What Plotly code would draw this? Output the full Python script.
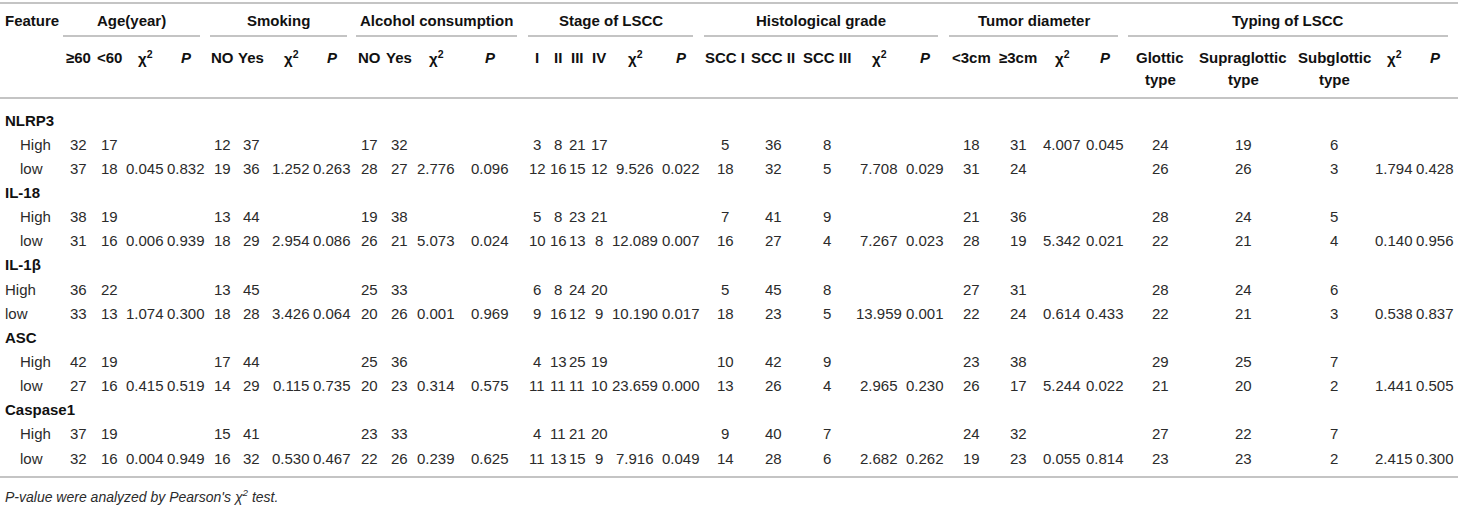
import plotly.graph_objects as go

# table contents
markers = ["NLRP3", "IL-18", "IL-1β", "ASC", "Caspase1"]
levels = ["High", "low"]

group_titles = ["Age(year)", "Smoking", "Alcohol consumption", "Stage of LSCC",
                "Histological grade", "Tumor diameter", "Typing of LSCC"]

age_labels = ["≥60", "&lt;60"]
smoke_labels = ["NO", "Yes"]
alcohol_labels = ["NO", "Yes"]
stage_labels = ["I", "II", "III", "IV"]
grade_labels = ["SCC I", "SCC II", "SCC III"]
tumor_labels = ["&lt;3cm", "≥3cm"]
typing_labels = ["Glottic<br>type", "Supraglottic<br>type", "Subglottic<br>type"]

age_high = [[32, 17], [38, 19], [36, 22], [42, 19], [37, 19]]
age_low = [[37, 18], [31, 16], [33, 13], [27, 16], [32, 16]]
age_chi2 = ["0.045", "0.006", "1.074", "0.415", "0.004"]
age_p = ["0.832", "0.939", "0.300", "0.519", "0.949"]

smoke_high = [[12, 37], [13, 44], [13, 45], [17, 44], [15, 41]]
smoke_low = [[19, 36], [18, 29], [18, 28], [14, 29], [16, 32]]
smoke_chi2 = ["1.252", "2.954", "3.426", "0.115", "0.530"]
smoke_p = ["0.263", "0.086", "0.064", "0.735", "0.467"]

alcohol_high = [[17, 32], [19, 38], [25, 33], [25, 36], [23, 33]]
alcohol_low = [[28, 27], [26, 21], [20, 26], [20, 23], [22, 26]]
alcohol_chi2 = ["2.776", "5.073", "0.001", "0.314", "0.239"]
alcohol_p = ["0.096", "0.024", "0.969", "0.575", "0.625"]

stage_high = [[3, 8, 21, 17], [5, 8, 23, 21], [6, 8, 24, 20], [4, 13, 25, 19], [4, 11, 21, 20]]
stage_low = [[12, 16, 15, 12], [10, 16, 13, 8], [9, 16, 12, 9], [11, 11, 11, 10], [11, 13, 15, 9]]
stage_chi2 = ["9.526", "12.089", "10.190", "23.659", "7.916"]
stage_p = ["0.022", "0.007", "0.017", "0.000", "0.049"]

grade_high = [[5, 36, 8], [7, 41, 9], [5, 45, 8], [10, 42, 9], [9, 40, 7]]
grade_low = [[18, 32, 5], [16, 27, 4], [18, 23, 5], [13, 26, 4], [14, 28, 6]]
grade_chi2 = ["7.708", "7.267", "13.959", "2.965", "2.682"]
grade_p = ["0.029", "0.023", "0.001", "0.230", "0.262"]

tumor_high = [[18, 31], [21, 36], [27, 31], [23, 38], [24, 32]]
tumor_low = [[31, 24], [28, 19], [22, 24], [26, 17], [19, 23]]
tumor_chi2 = ["4.007", "5.342", "0.614", "5.244", "0.055"]
tumor_p = ["0.045", "0.021", "0.433", "0.022", "0.814"]
tumor_stat_row = ["High", "low", "low", "low", "low"]

typing_high = [[24, 19, 6], [28, 24, 5], [28, 24, 6], [29, 25, 7], [27, 22, 7]]
typing_low = [[26, 26, 3], [22, 21, 4], [22, 21, 3], [21, 20, 2], [23, 23, 2]]
typing_chi2 = ["1.794", "0.140", "0.538", "1.441", "2.415"]
typing_p = ["0.428", "0.956", "0.837", "0.505", "0.300"]

footnote = "P-value were analyzed by Pearson's χ<sup>2</sup> test."

# layout, in pixels of the 1458x507 page
W, H = 1458, 507
FONT = "Liberation Sans, Arial, Helvetica, sans-serif"
HEAD = "#111111"
BODY = "#2b2b2b"
RULE = "#c4c4c4"

age_x = [78, 109, 145, 186]
smoke_x = [222, 251, 291, 332]
alcohol_x = [369, 399, 436, 490]
stage_x = [537, 558, 577, 599, 635, 681]
grade_x = [725, 773, 827, 879, 925]
tumor_x = [971, 1018, 1062, 1105]
typing_x = [1160, 1243, 1334, 1394, 1435]
spans = [(63, 200), (210, 347), (356, 517), (528, 693), (704, 938), (949, 1118), (1128, 1448)]
label_indent = [18, 18, 3, 18, 18]
row_y0, row_step = 120, 24.15

groups = [
    (age_labels, age_high, age_low, age_chi2, age_p, age_x, ["low"] * 5),
    (smoke_labels, smoke_high, smoke_low, smoke_chi2, smoke_p, smoke_x, ["low"] * 5),
    (alcohol_labels, alcohol_high, alcohol_low, alcohol_chi2, alcohol_p, alcohol_x, ["low"] * 5),
    (stage_labels, stage_high, stage_low, stage_chi2, stage_p, stage_x, ["low"] * 5),
    (grade_labels, grade_high, grade_low, grade_chi2, grade_p, grade_x, ["low"] * 5),
    (tumor_labels, tumor_high, tumor_low, tumor_chi2, tumor_p, tumor_x, tumor_stat_row),
    (typing_labels, typing_high, typing_low, typing_chi2, typing_p, typing_x, ["low"] * 5),
]

anns = []


def txt(x, y, s, anchor="center", size=15, color=BODY):
    anns.append(dict(x=x, y=y, xref="x", yref="y", text=s, showarrow=False,
                     xanchor=anchor, yanchor="middle",
                     font=dict(size=size, color=color, family=FONT)))


# header
txt(3, 20, "<b>Feature</b>", anchor="left", color=HEAD)
for title, (a, b) in zip(group_titles, spans):
    txt((a + b) / 2, 20, "<b>" + title + "</b>", color=HEAD)

for labels, hi, lo, chi, p, xs, stat_rows in groups:
    n = len(labels)
    for lab, x in zip(labels, xs[:n]):
        if "<br>" in lab:
            top, bottom = lab.split("<br>")
            txt(x, 57, "<b>" + top + "</b>", color=HEAD)
            txt(x, 79, "<b>" + bottom + "</b>", color=HEAD)
        else:
            txt(x, 57, "<b>" + lab + "</b>", color=HEAD)
    txt(xs[n], 57, "<b>χ<sup>2</sup></b>", color=HEAD)
    txt(xs[n + 1], 57, "<b><i>P</i></b>", color=HEAD)

    # body
    for i in range(len(markers)):
        for j, counts in enumerate([hi[i], lo[i]]):
            y = row_y0 + row_step * (3 * i + 1 + j)
            for v, x in zip(counts, xs[:n]):
                txt(x, y, str(v))
            if levels[j] == stat_rows[i]:
                txt(xs[n], y, chi[i])
                txt(xs[n + 1], y, p[i])

# row labels
for i, m in enumerate(markers):
    txt(3, row_y0 + row_step * 3 * i, "<b>" + m + "</b>", anchor="left", color=HEAD)
    for j, lev in enumerate(levels):
        txt(label_indent[i], row_y0 + row_step * (3 * i + 1 + j), lev, anchor="left")

txt(3, 496, "<i>" + footnote + "</i>", anchor="left", size=14)

# rules
shapes = [dict(type="line", xref="x", yref="y", x0=0, x1=W, y0=y, y1=y,
               line=dict(color=RULE, width=2)) for y in (3, 98, 477)]
for a, b in spans:
    shapes.append(dict(type="line", xref="x", yref="y", x0=a, x1=b, y0=36, y1=36,
                       line=dict(color=RULE, width=2)))

fig = go.Figure()
fig.update_layout(
    width=W, height=H,
    margin=dict(l=0, r=0, t=0, b=0),
    paper_bgcolor="white", plot_bgcolor="white",
    xaxis=dict(range=[0, W], visible=False, fixedrange=True),
    yaxis=dict(range=[H, 0], visible=False, fixedrange=True),
    annotations=anns, shapes=shapes, showlegend=False,
)
# drop the page's default 8px body margin so the figure sits at the top-left corner
fig.write_html("out.html", config={"displayModeBar": False},
               post_script="document.body.style.margin='0';")
